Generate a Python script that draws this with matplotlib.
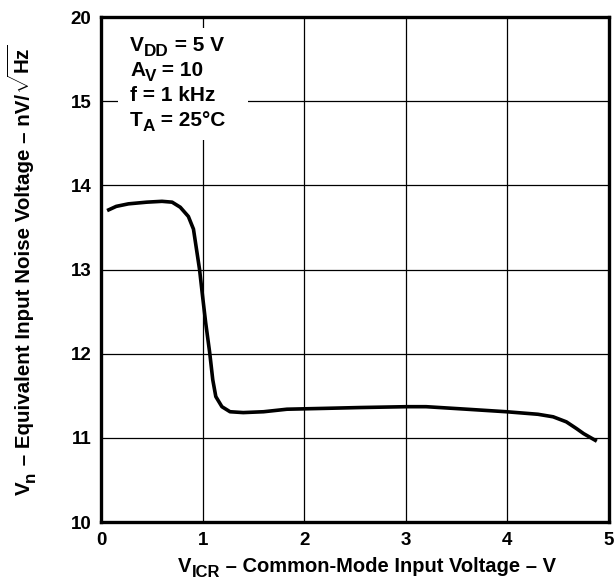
import numpy as np
import matplotlib
matplotlib.use("Agg")
import matplotlib.pyplot as plt
from matplotlib.patches import Rectangle
from matplotlib.transforms import IdentityTransform

plt.rcParams['font.family'] = ['Liberation Sans', 'DejaVu Sans']
plt.rcParams['font.weight'] = 'bold'
plt.rcParams['mathtext.fontset'] = 'custom'
plt.rcParams['mathtext.rm'] = 'Liberation Sans:bold'
plt.rcParams['mathtext.it'] = 'Liberation Sans:bold'
plt.rcParams['mathtext.bf'] = 'Liberation Sans:bold'
plt.rcParams['mathtext.default'] = 'rm'

# Noise voltage vs. common-mode input voltage
v_icr = [0.06, 0.15, 0.27, 0.45, 0.60, 0.70, 0.78, 0.86, 0.91, 0.94, 0.97,
         1.00, 1.03, 1.07, 1.10, 1.13, 1.19, 1.27, 1.40, 1.60, 1.83, 2.20,
         2.55, 3.01, 3.20, 3.60, 3.99, 4.30, 4.45, 4.58, 4.68, 4.75, 4.88]
v_n = [13.70, 13.75, 13.78, 13.80, 13.81, 13.80, 13.74, 13.63, 13.48, 13.24,
       13.00, 12.68, 12.37, 12.01, 11.69, 11.49, 11.37, 11.31, 11.30, 11.31,
       11.34, 11.35, 11.36, 11.37, 11.37, 11.34, 11.31, 11.28, 11.25, 11.19,
       11.11, 11.05, 10.96]

x_ticks = [0, 1, 2, 3, 4, 5]
y_ticks = [10, 11, 12, 13, 14, 15, 20]


def fwd(v):
    v = np.asarray(v, dtype=float)
    return np.where(v <= 15, v, 15 + (v - 15) / 5.0)


def inv(u):
    u = np.asarray(u, dtype=float)
    return np.where(u <= 15, u, 15 + (u - 15) * 5.0)


W, H = 616, 585
fig = plt.figure(figsize=(W / 100, H / 100), dpi=100)
renderer = fig.canvas.get_renderer()


def rich_text(x_px, y_px, parts, size, rotation=0, center=False):
    """Draw a line made of normal and subscript pieces at pixel coords
    (y measured from the top), baseline-aligned."""
    sub_scale, sub_drop = 0.82, 0.24
    pieces = []
    total = 0.0
    for s, kind in parts:
        fs = size * sub_scale if kind == 'sub' else size
        t = fig.text(0, 0, s, fontsize=fs, fontweight='bold')
        w = t.get_window_extent(renderer).width
        t.remove()
        pieces.append((s, fs, kind, w))
        total += w
    start = -total / 2 if center else 0.0
    ang = np.deg2rad(rotation)
    ux, uy = np.cos(ang), np.sin(ang)
    nx, ny = np.sin(ang), -np.cos(ang)  # points "down" relative to text
    x0, y0 = x_px, H - y_px
    pos = start
    for s, fs, kind, w in pieces:
        drop = size * sub_drop * 100 / 72 if kind == 'sub' else 0.0
        px = x0 + ux * pos + nx * drop
        py = y0 + uy * pos + ny * drop
        fig.text(px, py, s, fontsize=fs, fontweight='bold', ha='left',
                 va='baseline', rotation=rotation, rotation_mode='anchor',
                 transform=IdentityTransform())
        pos += w


ax = fig.add_axes([101 / W, 1 - 522 / H, 508 / W, 505 / H])
ax.set_yscale('function', functions=(fwd, inv))
ax.set_xlim(0, 5)
ax.set_ylim(10, 20)
ax.set_xticks(x_ticks)
ax.set_yticks(y_ticks)
ax.set_xticklabels([str(t) for t in x_ticks])
ax.set_yticklabels([str(t) for t in y_ticks])
ax.minorticks_off()
ax.tick_params(length=0, labelsize=13.5, pad=7)
for lab in ax.get_xticklabels() + ax.get_yticklabels():
    lab.set_fontweight('bold')

ax.grid(True, color='black', linewidth=0.9)
ax.set_axisbelow(True)
for s in ax.spines.values():
    s.set_linewidth(2.4)

# white panel behind the operating-conditions text
ax.add_patch(Rectangle((0.033, 0.756), 0.256, 0.222, transform=ax.transAxes,
                       facecolor='white', edgecolor='none', zorder=1.5))

ax.plot(v_icr, v_n, color='black', linewidth=2.6, solid_capstyle='butt',
        solid_joinstyle='round', zorder=3)

cond_size = 15
rich_text(130, 51, [('V', 'n'), ('DD', 'sub'), (' = 5 V', 'n')], cond_size)
rich_text(130, 76, [('A', 'n'), ('V', 'sub'), (' = 10', 'n')], cond_size)
rich_text(130, 101, [('f = 1 kHz', 'n')], cond_size)
rich_text(130, 126, [('T', 'n'), ('A', 'sub'), (' = 25°C', 'n')], cond_size)

rich_text(367, 572, [('V', 'n'), ('ICR', 'sub'),
                     (' – Common-Mode Input Voltage – V', 'n')],
          14.5, center=True)
rich_text(30, 270, [('V', 'n'), ('n', 'sub'),
                    (' – Equivalent Input Noise Voltage – nV/', 'n'),
                    (r'$\sqrt{\mathrm{Hz}}$', 'n')],
          14.8, rotation=90, center=True)

fig.savefig('out.png', dpi=100)
